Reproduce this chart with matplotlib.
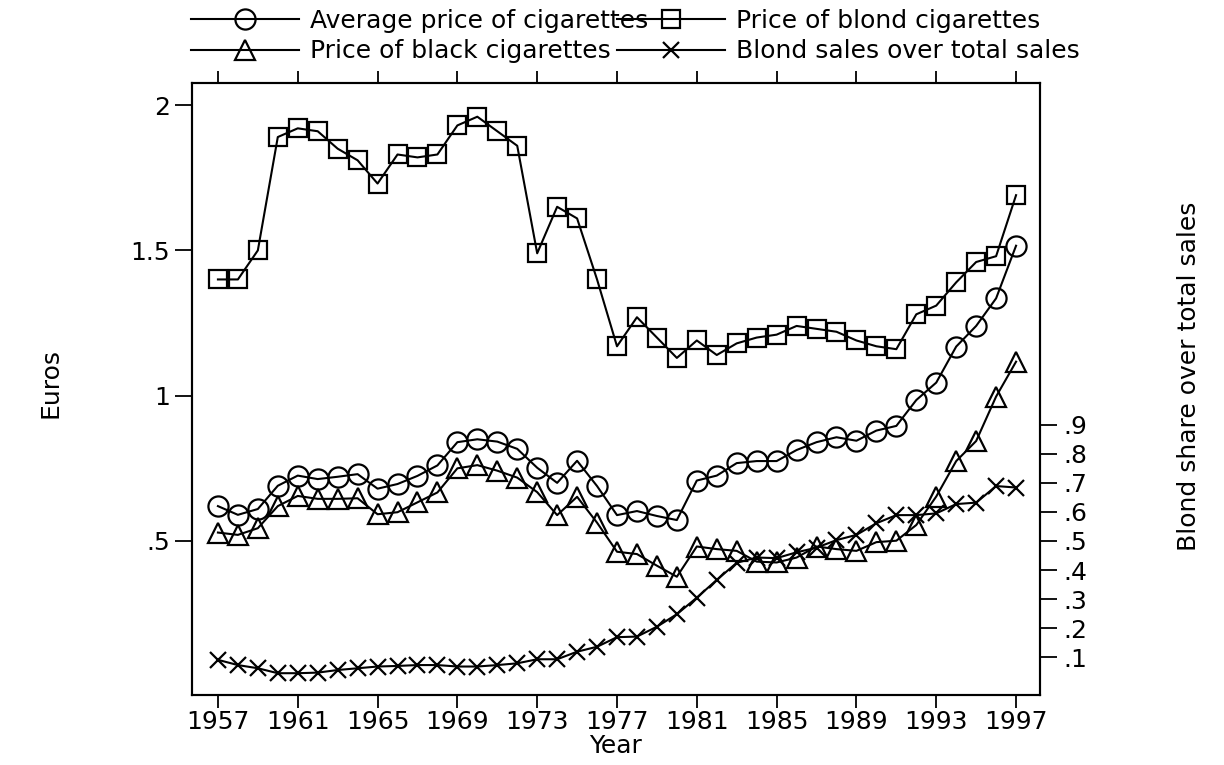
import matplotlib
matplotlib.use("Agg")
import matplotlib.pyplot as plt

years = list(range(1957, 1998))

avg_price = [0.62, 0.59, 0.61, 0.69, 0.725, 0.713, 0.721, 0.73, 0.68, 0.696, 0.724, 0.76, 0.84,
             0.85, 0.842, 0.817, 0.752, 0.70, 0.776, 0.689, 0.589, 0.603, 0.586, 0.572, 0.708, 0.725, 0.768,
             0.775, 0.775, 0.813, 0.84, 0.857, 0.845, 0.88, 0.896, 0.985, 1.045, 1.169, 1.24, 1.335, 1.516]

blond_price = [1.40, 1.40, 1.50, 1.89, 1.92, 1.91, 1.85, 1.81, 1.73, 1.83, 1.82, 1.83, 1.93,
               1.96, 1.91, 1.86, 1.49, 1.65, 1.61, 1.40, 1.17, 1.27, 1.20, 1.13, 1.19, 1.14, 1.18,
               1.20, 1.21, 1.24, 1.23, 1.22, 1.19, 1.17, 1.16, 1.28, 1.31, 1.39, 1.46, 1.48, 1.69]

black_price = [0.529, 0.521, 0.544, 0.62, 0.655, 0.645, 0.645, 0.647, 0.592, 0.599, 0.633, 0.667, 0.75,
               0.761, 0.742, 0.718, 0.668, 0.589, 0.652, 0.563, 0.463, 0.455, 0.415, 0.377, 0.481, 0.472, 0.466,
               0.429, 0.426, 0.443, 0.481, 0.472, 0.466, 0.496, 0.501, 0.555, 0.653, 0.775, 0.844, 0.997, 1.117]

blond_share = [0.091, 0.073, 0.062, 0.045, 0.045, 0.047, 0.056, 0.062, 0.068, 0.070, 0.073, 0.073, 0.068,
               0.068, 0.073, 0.079, 0.093, 0.093, 0.119, 0.136, 0.169, 0.171, 0.205, 0.248, 0.305, 0.366, 0.425,
               0.443, 0.441, 0.461, 0.477, 0.503, 0.521, 0.561, 0.589, 0.589, 0.595, 0.627, 0.632, 0.689, 0.684]

x_ticks = list(range(1957, 1998, 4))
left_ticks = [0.5, 1, 1.5, 2]
left_labels = [".5", "1", "1.5", "2"]
right_ticks = [0.1, 0.2, 0.3, 0.4, 0.5, 0.6, 0.7, 0.8, 0.9]
right_labels = [".1", ".2", ".3", ".4", ".5", ".6", ".7", ".8", ".9"]

plt.rcParams["font.family"] = ["DejaVu Sans"]
plt.rcParams["font.size"] = 18

fig = plt.figure(figsize=(12.24, 7.65), dpi=100)
ax = fig.add_axes([192 / 1224, 70 / 765, 848 / 1224, 612 / 765])
ax2 = ax.twinx()

lw = 1.5
kw = dict(color="black", lw=lw, markerfacecolor="none", markeredgecolor="black", markeredgewidth=1.6)
h1, = ax.plot(years, avg_price, marker="o", markersize=14.5, label="Average price of cigarettes", **kw)
h2, = ax.plot(years, blond_price, marker="s", markersize=13.5, label="Price of blond cigarettes", **kw)
h3, = ax.plot(years, black_price, marker="^", markersize=14.5, label="Price of black cigarettes", **kw)
h4, = ax2.plot(years, blond_share, marker="x", markersize=11, label="Blond sales over total sales", **kw)

ylim = (-0.03, 2.076)
ax.set_xlim(1955.7, 1998.2)
ax.set_ylim(*ylim)
ax2.set_ylim(*ylim)

ax.set_xticks(x_ticks)
ax.set_xticklabels([str(y) for y in x_ticks])
ax.set_yticks(left_ticks)
ax.set_yticklabels(left_labels)
ax2.set_yticks(right_ticks)
ax2.set_yticklabels(right_labels)

for a in (ax, ax2):
    for s in a.spines.values():
        s.set_linewidth(1.5)
ax.tick_params(axis="x", direction="out", length=9, width=1.3, pad=2, top=True, labeltop=False)
ax.tick_params(axis="y", direction="out", length=12, width=1.3, pad=4)
ax2.tick_params(axis="y", direction="out", length=12, width=1.3, pad=5)

ax.set_xlabel("Year", labelpad=0)
ax.set_ylabel("Euros")
ax.yaxis.set_label_coords(-0.153, 0.51)
ax2.set_ylabel("Blond share over total sales")
ax2.yaxis.set_label_coords(1.162, 0.52)

leg_kw = dict(loc="upper left", frameon=False, borderpad=0, borderaxespad=0,
              handlelength=4.3, handletextpad=0.45, labelspacing=0.25, numpoints=1)
fig.legend(handles=[h1, h3], bbox_to_anchor=(191 / 1224, 1 - 9 / 765), **leg_kw)
fig.legend(handles=[h2, h4], bbox_to_anchor=(617 / 1224, 1 - 9 / 765), **leg_kw)

fig.savefig("out.png", dpi=100)
